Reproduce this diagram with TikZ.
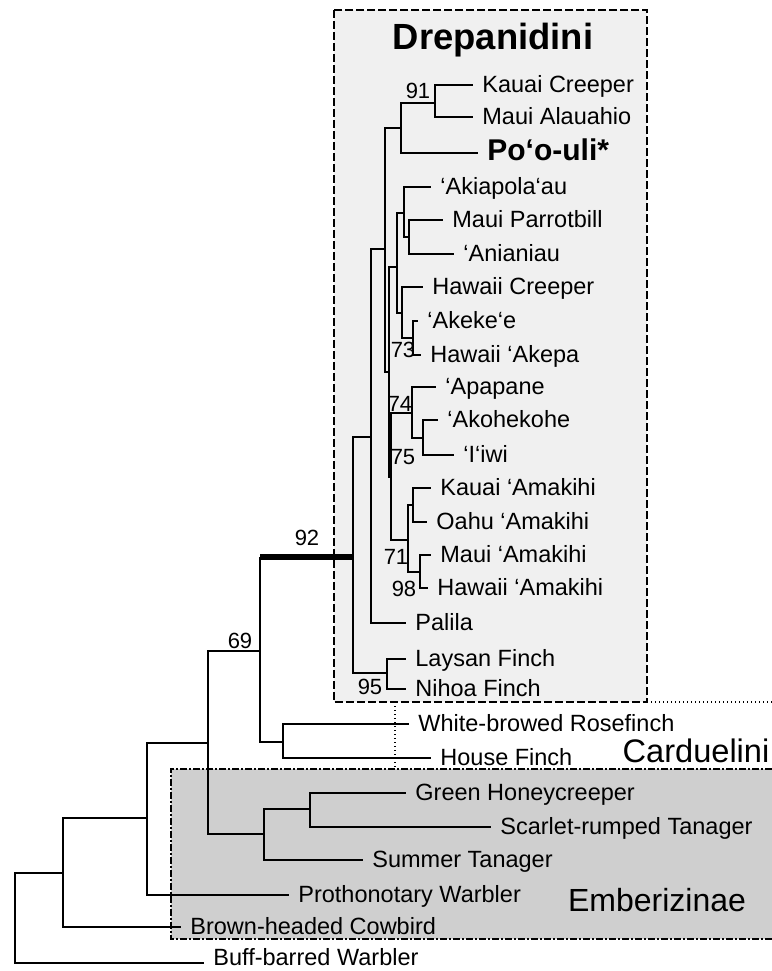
\documentclass[tikz,border=0pt]{standalone}
\usepackage{fontspec}
\setmainfont{Liberation Sans}
\definecolor{drepgray}{gray}{0.94}
\definecolor{embgray}{gray}{0.81}
\tikzset{
  branch/.style={line width=1pt},
  leaf/.style={anchor=west, inner xsep=4.5pt, inner ysep=0pt, text height=0.92em, text depth=0.2em, font=\fontsize{11.75}{14}\selectfont},
  boot/.style={inner sep=0pt, text height=0.716em, text depth=0pt, font=\fontsize{11}{13}\selectfont},
  clade/.style={inner sep=0pt, text height=0.716em, text depth=0pt},
  drepbox/.style={line width=1pt, dash pattern=on 4pt off 1.5pt},
  embbox/.style={line width=1pt, dash pattern=on 3.5pt off 1.2pt on 0.6pt off 1.2pt},
  cardline/.style={line width=0.8pt, dash pattern=on 0.6pt off 1.4pt}
}
\begin{document}
\begin{tikzpicture}[x=0.5pt, y=-0.5pt]
  \useasboundingbox (0,0) rectangle (772,971);

  % clade boxes
  \fill[embgray] (171,769) rectangle (772,939);
  \draw[embbox] (772,769) -- (171,769) -- (171,939) -- (772,939);
  \filldraw[drepbox, fill=drepgray] (334,10) rectangle (647,702);
  \draw[cardline] (647,702) -- (772,702);
  \draw[cardline] (395,702) -- (395,769);

  % internal nodes
  \foreach \nm/\x/\y in {
    root/15/918, nA/63/873, nB/147/818, nC/208/743, n69/260/651,
    ncard/283/742, ntan/264/834, ngs/310/809, dre/353/557, nfin/387/673,
    n371/371/437, n385/385/249, npo/401/128, n91/435/103, nq/389/372,
    n397/397/267, n404/404/213, n409/409/237, n402/402/313, n73/413/338,
    nr/391/477, n74/412/413, n75/423/438, n71/408/540, nko/413/505, nmh/420/572} {
    \coordinate (\nm) at (\x,\y);
  }

  % leaves
  \foreach \nm/\x/\y/\txt in {
    kc/473/85/Kauai Creeper, ma/473/117/Maui Alauahio,
    ak/431/187/`Akiapola`au, mp/443/220/Maui Parrotbill, an/454/254/`Anianiau,
    hc/423/287/Hawaii Creeper, akk/418/321/`Akeke`e, akp/421/355/Hawaii `Akepa,
    apa/436/387/`Apapane, ako/438/420/`Akohekohe, iiwi/454/455/`I`iwi,
    ka/431/488/Kauai `Amakihi, oa/427/522/Oahu `Amakihi,
    maa/431/555/Maui `Amakihi, ha/428/588/Hawaii `Amakihi,
    pal/406/623/Palila, lf/406/659/Laysan Finch, nf/406/689/Nihoa Finch,
    wb/409/724/White-browed Rosefinch, hf/431/758/House Finch,
    gh/406/793/Green Honeycreeper, sr/491/827/Scarlet-rumped Tanager,
    st/363/860/Summer Tanager, pw/289/895/Prothonotary Warbler,
    bc/181/927/Brown-headed Cowbird} {
    \node[leaf] (\nm) at (\x,\y) {\txt};
  }
  \node[leaf, text height=0.72em, text depth=0.52em] (bb) at (204,963) {Buff-barred Warbler};
  \node[leaf, font=\bfseries\fontsize{15}{18}\selectfont] (po) at (478,153) {Po`o-uli*};

  % branches
  \foreach \a/\b in {
    root/nA, nA/nB, nB/nC, nC/n69, nC/ntan, n69/ncard, ntan/ngs,
    dre/n371, dre/nfin, n371/n385, n385/npo, n385/nq, npo/n91,
    nq/n397, nq/nr, n397/n404, n397/n402, n404/n409, n402/n73,
    nr/n74, nr/n71, n74/n75, n71/nko, n71/nmh} {
    \draw[branch] (\a) |- (\b);
  }
  \foreach \a/\b in {
    root/bb, nA/bc, nB/pw, ncard/wb, ncard/hf, ngs/gh, ngs/sr, ntan/st,
    nfin/lf, nfin/nf, n371/pal, npo/po, n91/kc, n91/ma, n404/ak,
    n409/mp, n409/an, n402/hc, n73/akk, n73/akp, n74/apa, n75/ako,
    n75/iiwi, nko/ka, nko/oa, nmh/maa, nmh/ha} {
    \draw[branch] (\a) |- (\b.west);
  }
  \draw[branch] (n69) -- (n69 |- dre);
  \draw[line width=2.8pt] (n69 |- dre) -- (dre);

  % bootstrap values
  \foreach \x/\y/\val in {
    418/91/91, 403/350/73, 400/404/74, 403/457/75, 396/557/71,
    404/589/98, 370/687/95, 307/538/92, 240/641/69} {
    \node[boot] (bs\val) at (\x,\y) {\val};
  }

  % clade names
  \node[clade, font=\bfseries\fontsize{18.2}{22}\selectfont] (drep) at (493,42) {Drepanidini};
  \node[clade, font=\fontsize{16.3}{20}\selectfont] (card) at (696,755) {Carduelini};
  \node[clade, font=\fontsize{16}{20}\selectfont] (emb) at (657,904) {Emberizinae};
\end{tikzpicture}
\end{document}
